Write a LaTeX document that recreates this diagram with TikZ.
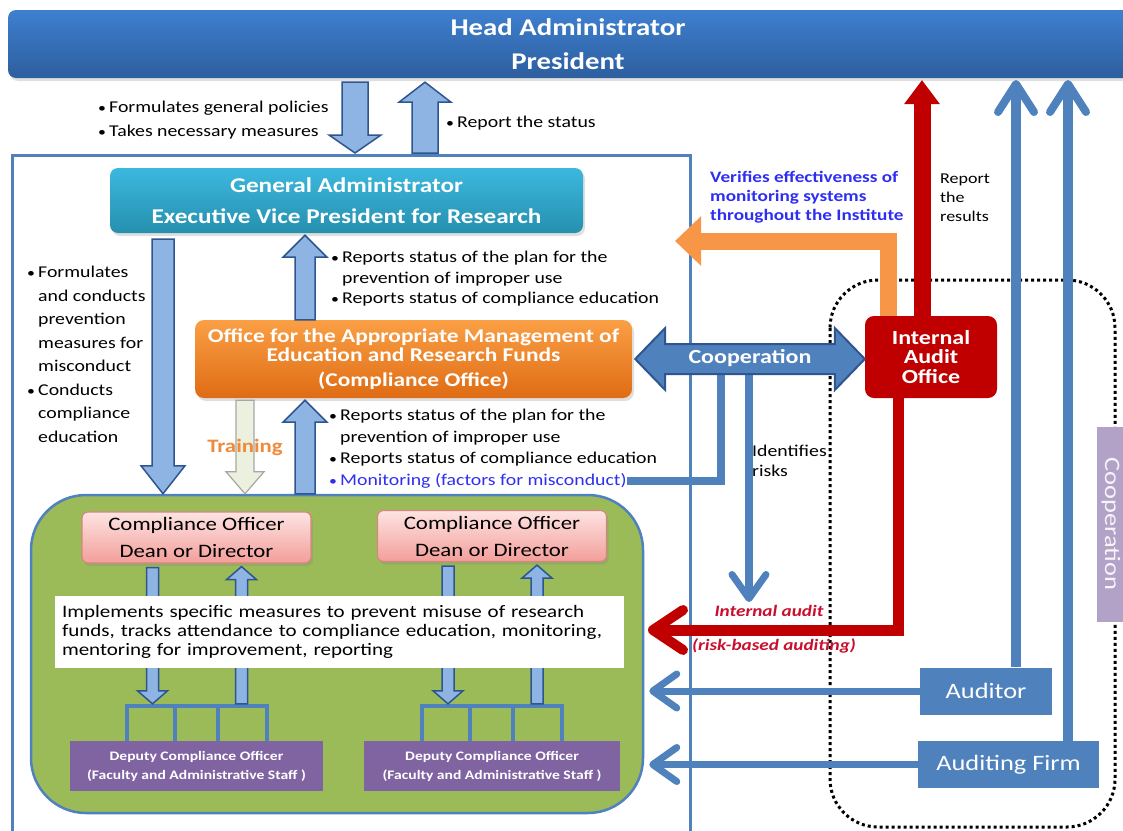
\documentclass[tikz,border=0pt]{standalone}
\usepackage{fontspec}
\setmainfont{Carlito}[FakeStretch=1.2]
\usetikzlibrary{arrows.meta,shadows,calc}

\definecolor{headtop}{HTML}{3E80CF}
\definecolor{headbot}{HTML}{2D5E9E}
\definecolor{gatop}{HTML}{3CB8DE}
\definecolor{gabot}{HTML}{2690AE}
\definecolor{offtop}{HTML}{FA9F45}
\definecolor{offbot}{HTML}{DF6C14}
\definecolor{iaored}{HTML}{C00000}
\definecolor{cotop}{HTML}{FDE4E2}
\definecolor{cobot}{HTML}{F39E9A}
\definecolor{coline}{HTML}{D7867F}
\definecolor{grpgreen}{HTML}{9BBB59}
\definecolor{deppurple}{HTML}{8064A2}
\definecolor{linkblue}{HTML}{4F81BD}
\definecolor{arrfill}{HTML}{8DB4E2}
\definecolor{arrline}{HTML}{2F5590}
\definecolor{trainfill}{HTML}{EBF1DE}
\definecolor{verorange}{HTML}{F79646}
\definecolor{vblue}{HTML}{2E2EF2}
\definecolor{auditred}{HTML}{C8102E}
\definecolor{trainor}{HTML}{EE8A3C}
\definecolor{lilac}{HTML}{B3A2C7}

\newcommand\fs[2]{\fontsize{#1}{#2}\selectfont}
\newcommand\itm{\makebox[11pt][l]{\scalebox{0.8}{\textbullet}}}
\newcommand\ind{\hspace*{11pt}}
% vertical block arrow: style, from, to, shaft half width, head half width, head length
\newcommand\vblock[6][]{%
  \path[#1] let \p1=(#2), \p2=(#3), \n1={sign(\y2-\y1)} in
    (\x1-#4pt,\y1) -- (\x1-#4pt,\y2-\n1*#6pt) -- (\x1-#5pt,\y2-\n1*#6pt) -- (\x1,\y2)
    -- (\x1+#5pt,\y2-\n1*#6pt) -- (\x1+#4pt,\y2-\n1*#6pt) -- (\x1+#4pt,\y1) -- cycle;}

\begin{document}
\begin{tikzpicture}[x=1pt,y=-1pt,
  txt/.style={inner sep=0pt, align=left, font=\fs{16.5}{20.5}},
  shade/.style={drop shadow={opacity=0.25,shadow xshift=2pt,shadow yshift=-3pt}},
  topbar/.style={rounded corners=8pt, top color=headtop, bottom color=headbot, text=white,
    font=\bfseries\fs{24}{34}, align=center, minimum width=1140pt, minimum height=68pt, shade},
  gabox/.style={rounded corners=8pt, top color=gatop, bottom color=gabot, text=white,
    font=\bfseries\fs{21}{31}, align=center, minimum width=473pt, minimum height=65pt, shade},
  offbox/.style={rounded corners=9pt, top color=offtop, bottom color=offbot, text=white,
    font=\bfseries\fs{19.5}{19}, align=center, minimum width=437pt, minimum height=78pt, shade},
  iaobox/.style={rounded corners=9pt, fill=iaored, text=white, font=\bfseries\fs{20}{19.5},
    align=center, minimum width=132pt, minimum height=82pt},
  cobox/.style={rounded corners=6pt, top color=cotop, bottom color=cobot, draw=coline,
    line width=1.2pt, font=\fs{19}{27}, align=center, minimum width=229pt, minimum height=51pt, shade},
  depbox/.style={fill=deppurple, text=white, font=\bfseries\fs{13}{19}, align=center,
    minimum width=253pt, minimum height=50pt},
  audbox/.style={fill=linkblue, text=white, font=\fs{22}{24}, minimum height=47pt},
  grpbox/.style={fill=grpgreen, draw=linkblue, line width=2.5pt, rounded corners=55pt,
    minimum width=612pt, minimum height=318pt},
  notebox/.style={fill=white, text width=555pt, inner xsep=7pt, align=left,
    font=\fs{17.5}{19}, minimum height=72pt},
  coopv/.style={fill=lilac, text=white!88!lilac, rotate=-90, font=\fs{22}{24},
    minimum width=195pt, minimum height=28pt},
  frame/.style={draw=linkblue, line width=3pt},
  dotbox/.style={draw=black, line width=3pt, dash pattern=on 3pt off 3pt, rounded corners=48pt},
  lightarrow/.style={fill=arrfill, draw=arrline, line width=1.5pt},
  trainarrow/.style={fill=trainfill, draw=gray!70, line width=1.2pt},
  coop/.style={fill=linkblue, draw=arrline, line width=2pt},
  tree/.style={draw=linkblue, line width=4pt},
  link/.style={draw=linkblue, line width=8pt},
  barb/.style={-{Straight Barb[length=24pt,width=34pt,line width=7pt,round]}},
  uplink/.style={draw=linkblue, line width=10pt, -{Straight Barb[length=28pt,width=36pt,line width=8pt,round]}},
  sidelink/.style={draw=linkblue, line width=7pt, shorten >=5pt, barb},
  verify/.style={draw=verorange, line width=17pt, -{Triangle[width=48pt,length=26pt]}},
  report/.style={draw=iaored, line width=17pt, -{Triangle[width=34pt,length=24pt]}},
  audit/.style={draw=iaored, line width=11pt, -{Straight Barb[length=30pt,width=40pt,line width=10pt,round]}}]
\useasboundingbox (0,0) rectangle (1123,830);

\draw[dotbox] (830,280) rectangle (1115,827);
\draw[frame] (12,155) rectangle (690,845);

\node[topbar] (head) at (578,44) {Head Administrator\hspace*{20pt}\\President\hspace*{20pt}};
\node[gabox] (ga) at (346.5,200.5) {General Administrator\\Executive Vice President for Research};
\node[offbox] (office) at (413.5,359) {Office for the Appropriate Management of\\Education and Research Funds\\[6pt](Compliance Office)};
\node[iaobox] (iao) at (931,357) {Internal\\Audit\\Office};
\node[grpbox] (grp) at (337,654) {};
\node[cobox] (co1) at (196.5,537.5) {Compliance Officer\\Dean or Director};
\node[cobox] (co2) at (492,536) {Compliance Officer\\Dean or Director};
\node[depbox] (dep1) at (196.5,766) {Deputy Compliance Officer\\(Faculty and Administrative Staff )};
\node[depbox, minimum width=256pt] (dep2) at (492,766) {Deputy Compliance Officer\\(Faculty and Administrative Staff )};
\node[audbox, minimum width=132pt] (aud) at (986,691) {Auditor};
\node[audbox, minimum width=181pt] (firm) at (1008.5,764.5) {Auditing Firm};
\node[coopv] (coopv) at (1111,524) {Cooperation};

% tree and small arrows inside the group
\foreach \d/\c in {dep1/co1,dep2/co2} {
  \draw[tree] ([xshift=-72pt,yshift=35pt]\d.north) -- ([xshift=72pt,yshift=35pt]\d.north);
  \foreach \o in {-70,-22,21,70}
    \draw[tree] ([xshift=\o pt]\d.north) -- ([xshift=\o pt,yshift=35pt]\d.north);
  \vblock[lightarrow]{[xshift=-44pt,yshift=-4pt]\c.south}{[yshift=37pt]\d.north}{6}{15}{13}
  \vblock[lightarrow]{[xshift=45pt,yshift=37pt]\d.north}{[yshift=-3pt]\c.south}{6}{15}{13}
}
\node[notebox] (note) at (339.5,631.5) {\hyphenpenalty=10000 Implements specific measures to prevent misuse of research funds, tracks attendance to compliance education, monitoring, mentoring for improvement, reporting};

% block arrows
\coordinate (d1) at (355,153);
\coordinate (u1) at (425,153);
\vblock[lightarrow]{[xshift=-223pt,yshift=-4pt]head.south}{d1}{13}{26}{18}
\vblock[lightarrow]{u1}{[yshift=-4pt]head.south}{13}{26}{20}
\vblock[lightarrow]{[xshift=-183.5pt,yshift=-6pt]ga.south}{grp.north}{11}{22}{28}
\vblock[lightarrow]{[xshift=-108.5pt]office.north}{[yshift=-2pt]ga.south}{10}{22}{22}
\vblock[trainarrow]{[xshift=-168.5pt,yshift=-2pt]office.south}{grp.north}{9}{19}{22}
\vblock[lightarrow]{[xshift=-32pt]grp.north}{[yshift=-2pt]office.south}{10}{22}{22}

% texts
\node[txt, anchor=west, font=\fs{16.5}{24}] (pol) at (98,120) {\itm Formulates general policies\\\itm Takes necessary measures};
\node[txt, anchor=west] (stat) at (446,123) {\itm Report the status};
\node[txt, anchor=north west, font=\fs{16.5}{23.5}] (form) at (27,266) {\itm Formulates\\\ind and conducts\\\ind prevention\\\ind measures for\\\ind misconduct\\\itm Conducts\\\ind compliance\\\ind education};
\node[txt, anchor=west] (rep1) at (331,279) {\itm Reports status of the plan for the\\\ind prevention of improper use\\\itm Reports status of compliance education};
\node[txt, anchor=west, font=\fs{16.5}{21.5}] (rep2) at (329,438) {\itm Reports status of the plan for the\\\ind prevention of improper use\\\itm Reports status of compliance education};
\node[txt, anchor=west, text=vblue] (mon) at (329,481) {\itm Monitoring (factors for misconduct)};
\node[font=\bfseries\fs{19}{20}, text=trainor] (train) at (245,447) {Training};

% connectors on the right
\coordinate (c1) at (721,373);
\coordinate (c2) at (749,373);
\coordinate (rtip) at (749,602);
\draw[link] (mon.east) -| (c1);
\draw[link, barb] (c2) -- (rtip);
\path[coop] let \p1=(office.east), \p2=(iao.west) in
  (\x1+3pt,\y1) -- (\x1+33pt,\y1+31pt) -- (\x1+33pt,\y1+15pt) -- (\x2-30pt,\y1+15pt) -- (\x2-30pt,\y1+31pt)
  -- (\x2,\y1) -- (\x2-30pt,\y1-31pt) -- (\x2-30pt,\y1-15pt) -- (\x1+33pt,\y1-15pt) -- (\x1+33pt,\y1-31pt) -- cycle;
\node[font=\bfseries\fs{20}{22}, text=white] (coopl) at (750,358) {Cooperation};

\coordinate (vtip) at (675,241);
\coordinate (rtop) at (922,80);
\coordinate (atip) at (648,630);
\coordinate (t1) at (1016,80);
\coordinate (t2) at (1068,80);
\draw[verify] ([xshift=-43pt]iao.north) |- (vtip);
\draw[report] ([xshift=-9pt]iao.north) -- (rtop);
\draw[audit] ([xshift=-33pt]iao.south) |- (atip);
\draw[uplink] ([xshift=30pt]aud.north) -- (t1);
\draw[uplink] ([xshift=59.5pt]firm.north) -- (t2);
\draw[sidelink] (aud.west) -- (aud.west -| grp.east);
\draw[sidelink] (firm.west) -- (firm.west -| grp.east);

\node[txt, anchor=west, text=vblue, font=\bfseries\fs{16}{19}] (verif) at (710,197) {Verifies effectiveness of\\monitoring systems\\throughout the Institute};
\node[txt, anchor=west, font=\fs{15}{19}] (res) at (940,198) {Report\\the\\results};
\node[txt, anchor=west] (risk) at (752,461) {Identifies\\risks};
\node[text=auditred, font=\itshape\bfseries\fs{16}{18}] (ia1) at (769,611) {Internal audit};
\node[text=auditred, font=\itshape\bfseries\fs{16}{18}] (ia2) at (774,646) {(risk-based auditing)};
\end{tikzpicture}
\end{document}
